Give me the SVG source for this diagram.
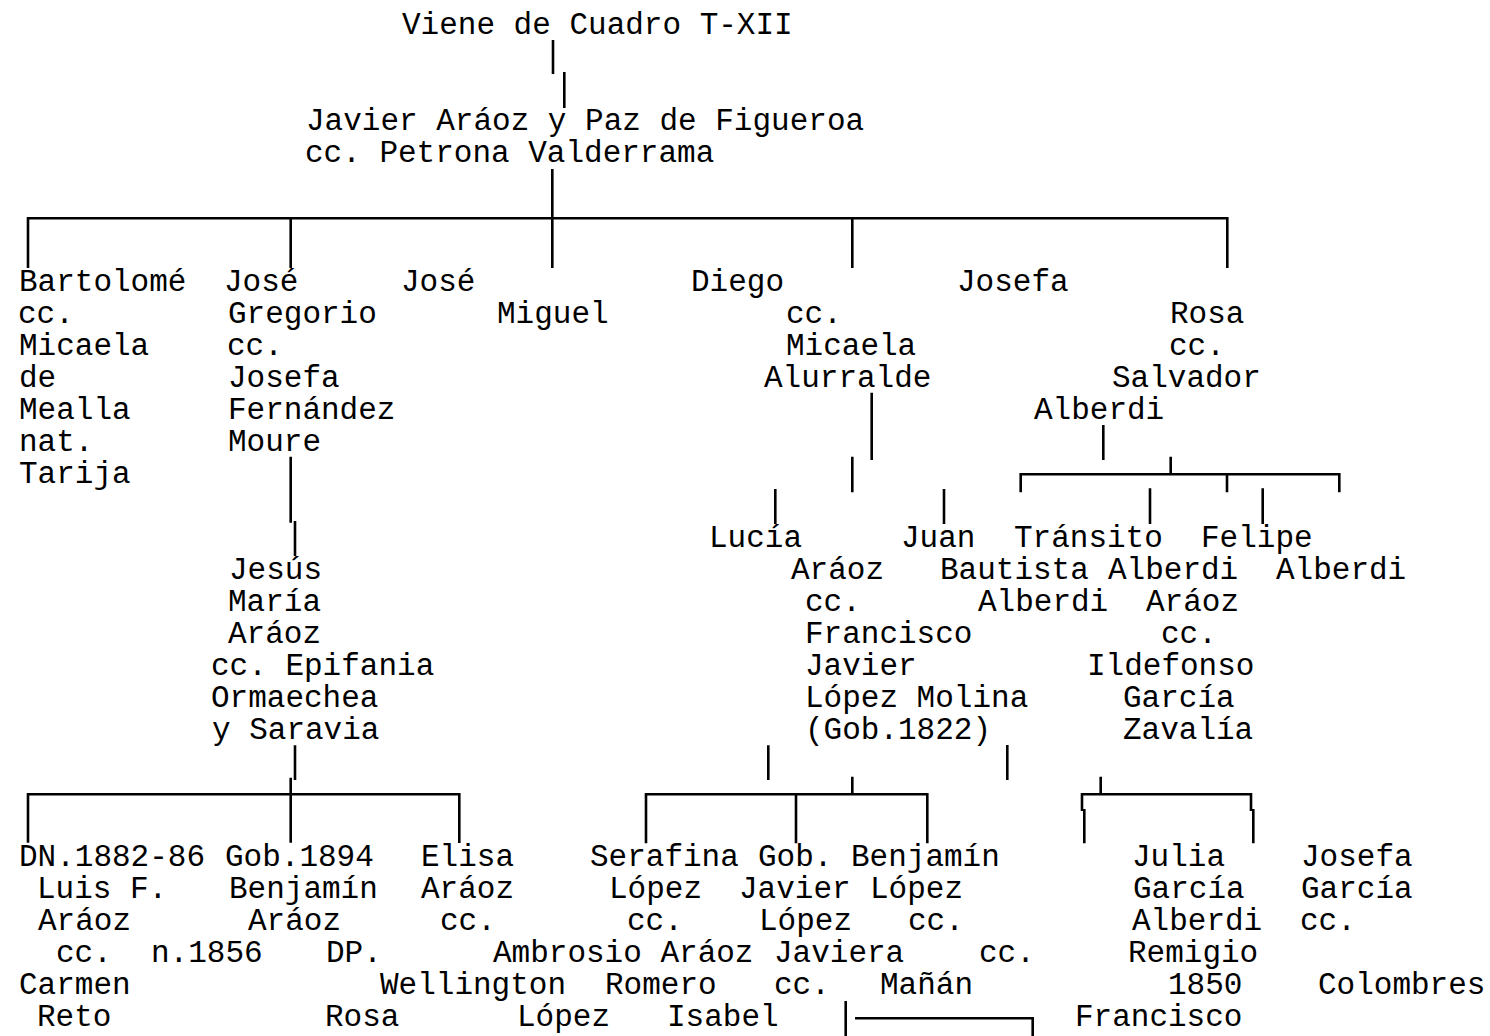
<svg xmlns="http://www.w3.org/2000/svg" width="1490" height="1036" viewBox="0 0 1490 1036">
<style>
.t{font-family:"Liberation Mono","Courier New",monospace;font-size:31px;fill:#000;white-space:pre}
.c{fill:none;stroke:#000;stroke-width:2.6;stroke-linejoin:miter;stroke-linecap:butt}
</style>
<rect width="1490" height="1036" fill="#fff"/>
<g id="connectors" class="c">
<path d="M553,40V74M564.3,72V108M552.3,169V268M28,268V218.3H1227.3V268M290.7,218V268M852.3,218V268"/>
<path d="M290.7,456.7V522.7M295,521V556"/>
<path d="M871.7,392.7V460M852.3,456.7V492.3M775.3,489V524M944,489V524"/>
<path d="M1103.3,425V460M1170.7,456.7V474.3M1020.7,492.3V474.3H1339.3V492.3M1227,474.3V492.3M1150,488.3V524M1262.7,488.3V524"/>
<path d="M295,745.3V780M290.7,777.7V842.7M28,842.7V794.3H459.3V843"/>
<path d="M768.3,745.3V780M852.3,776.7V794.3M646,843.3V794.3H927.3V843.3M796,794.3V843.3"/>
<path d="M1007.3,745V780M1100.7,776.7V794.3M1082,811V794.3H1251V811M1084.3,809V843.3M1253.3,809V843.3"/>
<path d="M845.7,1001V1036M855,1018.3H1032.7V1036"/>
</g>
<g id="viene"><text class="t" x="402" y="34">Viene de Cuadro T-XII</text></g>
<g id="javier"><text class="t" x="306" y="130">Javier Aráoz y Paz de Figueroa</text><text class="t" x="305" y="162">cc. Petrona Valderrama</text></g>
<g id="bartolome">
<text class="t" x="19" y="291">Bartolomé</text><text class="t" x="18" y="323">cc.</text><text class="t" x="19" y="355">Micaela</text><text class="t" x="19" y="387">de</text><text class="t" x="19" y="419">Mealla</text><text class="t" x="19" y="451">nat.</text><text class="t" x="19" y="483">Tarija</text>
</g>
<g id="jose-gregorio">
<text class="t" x="224" y="291">José</text><text class="t" x="228" y="323">Gregorio</text><text class="t" x="227" y="355">cc.</text><text class="t" x="228" y="387">Josefa</text><text class="t" x="228" y="419">Fernández</text><text class="t" x="228" y="451">Moure</text>
</g>
<g id="jose"><text class="t" x="401" y="291">José</text></g>
<g id="miguel"><text class="t" x="497" y="323">Miguel</text></g>
<g id="diego">
<text class="t" x="691" y="291">Diego</text><text class="t" x="786" y="323">cc.</text><text class="t" x="786" y="355">Micaela</text><text class="t" x="764" y="387">Alurralde</text>
</g>
<g id="josefa"><text class="t" x="957" y="291">Josefa</text></g>
<g id="rosa">
<text class="t" x="1170" y="323">Rosa</text><text class="t" x="1169" y="355">cc.</text><text class="t" x="1112" y="387">Salvador</text><text class="t" x="1034" y="419">Alberdi</text>
</g>
<g id="jesus-maria">
<text class="t" x="229" y="579">Jesús</text><text class="t" x="228" y="611">María</text><text class="t" x="228" y="643">Aráoz</text><text class="t" x="211" y="675">cc. Epifania</text><text class="t" x="211" y="707">Ormaechea</text><text class="t" x="212" y="739">y Saravia</text>
</g>
<g id="lucia">
<text class="t" x="709" y="547">Lucía</text><text class="t" x="791" y="579">Aráoz</text><text class="t" x="805" y="611">cc.</text><text class="t" x="805" y="643">Francisco</text><text class="t" x="805" y="675">Javier</text><text class="t" x="805" y="707">López Molina</text><text class="t" x="805" y="739">(Gob.1822)</text>
</g>
<g id="juan">
<text class="t" x="901" y="547">Juan</text><text class="t" x="940" y="579">Bautista</text><text class="t" x="978" y="611">Alberdi</text>
</g>
<g id="transito">
<text class="t" x="1014" y="547">Tránsito</text><text class="t" x="1108" y="579">Alberdi</text><text class="t" x="1146" y="611">Aráoz</text><text class="t" x="1161" y="643">cc.</text><text class="t" x="1087" y="675">Ildefonso</text><text class="t" x="1123" y="707">García</text><text class="t" x="1123" y="739">Zavalía</text>
</g>
<g id="felipe">
<text class="t" x="1201" y="547">Felipe</text><text class="t" x="1276" y="579">Alberdi</text>
</g>
<g id="luis">
<text class="t" x="19" y="866">DN.1882-86</text><text class="t" x="37" y="898">Luis F.</text><text class="t" x="38" y="930">Aráoz</text><text class="t" x="56" y="962">cc.</text><text class="t" x="19" y="994">Carmen</text><text class="t" x="37" y="1026">Reto</text>
</g>
<g id="benjamin-araoz">
<text class="t" x="225" y="866">Gob.1894</text><text class="t" x="229" y="898">Benjamín</text><text class="t" x="248" y="930">Aráoz</text><text class="t" x="151" y="962">n.1856</text><text class="t" x="326" y="962">DP.</text><text class="t" x="325" y="1026">Rosa</text>
</g>
<g id="elisa">
<text class="t" x="421" y="866">Elisa</text><text class="t" x="421" y="898">Aráoz</text><text class="t" x="440" y="930">cc.</text><text class="t" x="380" y="994">Wellington</text>
</g>
<g id="serafina">
<text class="t" x="590" y="866">Serafina</text><text class="t" x="609" y="898">López</text><text class="t" x="627" y="930">cc.</text><text class="t" x="493" y="962">Ambrosio Aráoz</text><text class="t" x="605" y="994">Romero</text><text class="t" x="517" y="1026">López</text>
</g>
<g id="javier-lopez">
<text class="t" x="758" y="866">Gob.</text><text class="t" x="739" y="898">Javier</text><text class="t" x="759" y="930">López</text><text class="t" x="774" y="962">Javiera</text><text class="t" x="774" y="994">cc.</text><text class="t" x="667" y="1026">Isabel</text>
</g>
<g id="benjamin-lopez">
<text class="t" x="851" y="866">Benjamín</text><text class="t" x="870" y="898">López</text><text class="t" x="908" y="930">cc.</text><text class="t" x="979" y="962">cc.</text><text class="t" x="880" y="994">Mañán</text>
</g>
<g id="julia">
<text class="t" x="1132" y="866">Julia</text><text class="t" x="1133" y="898">García</text><text class="t" x="1132" y="930">Alberdi</text><text class="t" x="1128" y="962">Remigio</text><text class="t" x="1168" y="994">1850</text><text class="t" x="1075" y="1026">Francisco</text>
</g>
<g id="josefa-garcia">
<text class="t" x="1301" y="866">Josefa</text><text class="t" x="1301" y="898">García</text><text class="t" x="1300" y="930">cc.</text><text class="t" x="1318" y="994">Colombres</text>
</g>
</svg>
